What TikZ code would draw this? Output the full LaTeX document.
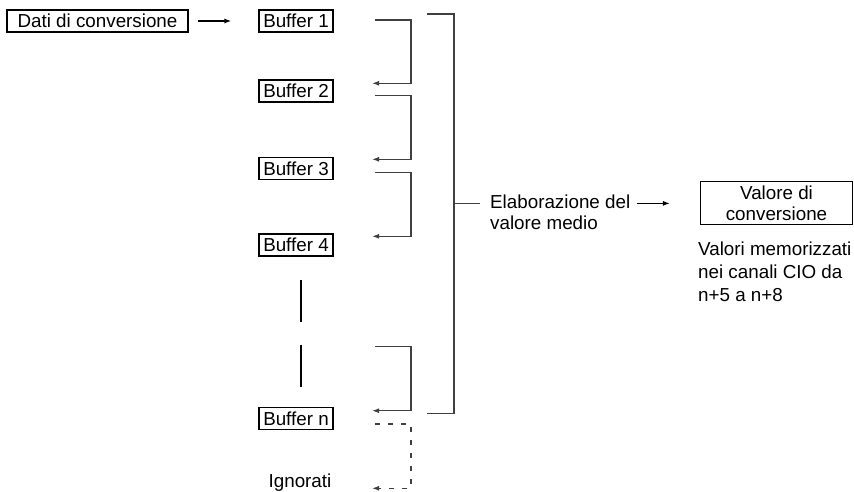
\documentclass[tikz,border=0pt]{standalone}
\usepackage{fontspec}
\setmainfont{Liberation Sans}
\usetikzlibrary{arrows.meta}
\begin{document}
\begin{tikzpicture}[x=1pt,y=-1pt,
  txt/.style={font=\fontsize{18.8}{21}\selectfont, inner sep=0pt},
  box/.style={txt, draw, line width=1.1pt, minimum height=22pt, align=center},
  conn/.style={draw=black!75, line width=1.3pt},
  arr/.style={-{Latex[length=7pt,width=5pt]}},
  dotline/.style={draw=black, line width=2.4pt},
  dsh/.style={conn, dash pattern=on 5pt off 8pt}]
\useasboundingbox (0,0) rectangle (854,492);

% boxes and texts
\node[box, minimum width=181pt] (dati) at (97.5,21) {Dati di conversione};
\node[box, minimum width=74pt] (b1) at (296,21) {Buffer 1};
\node[box, minimum width=74pt] (b2) at (296,91) {Buffer 2};
\node[box, minimum width=74pt] (b3) at (296,168.5) {Buffer 3};
\node[box, minimum width=74pt] (b4) at (296,245) {Buffer 4};
\node[box, minimum width=74pt] (bn) at (296,418.5) {Buffer n};
\node[txt, anchor=base] (ign) at (300,487.5) {Ignorati};
\node[txt, anchor=north west, align=left] (elab) at (490,195) {Elaborazione del\\valore medio};
\node[box, minimum width=152pt, minimum height=43pt] (val) at (776.5,203.4) {Valore di\\conversione};
\node[txt, anchor=north west, align=left, font=\fontsize{18.8}{23}\selectfont] (mem) at (698,241.5) {Valori memorizzati\\nei canali CIO da\\n+5 a n+8};

% coordinates for bracket ends
\coordinate (rail) at (411,0);
\coordinate (o1) at (375,20);
\coordinate (i2) at (372,83.3);
\coordinate (o2) at (375,95.5);
\coordinate (i3) at (372,159.3);
\coordinate (o3) at (375,172.5);
\coordinate (i4) at (372,236.3);
\coordinate (on) at (375,346.7);
\coordinate (in) at (372,410.7);
\coordinate (dn) at (375,424);
\coordinate (ig) at (372,488.3);
\coordinate (bigrail) at (454,0);
\coordinate (bt) at (426.5,14);
\coordinate (bb) at (426.5,413.3);
\coordinate (tk) at (480,203.3);
\coordinate (ea) at (637,203.4);
\coordinate (d1a) at (300.7,280);
\coordinate (d1b) at (300.7,322.3);
\coordinate (d2a) at (300.7,344.5);
\coordinate (d2b) at (300.7,386.7);

% connectors
\draw[conn, draw=black, arr, shorten <=9pt, shorten >=27pt] (dati) -- (b1);
\draw[conn, arr] (o1) -| (rail |- i2) -- (i2);
\draw[conn, arr] (o2) -| (rail |- i3) -- (i3);
\draw[conn, arr] (o3) -| (rail |- i4) -- (i4);
\draw[conn, arr] (on) -| (rail |- in) -- (in);
\draw[dsh, arr] (dn) -| (rail |- ig) -- (ig);
\draw[conn] (bt) -| (bigrail |- bb) -- (bb);
\draw[conn] (bigrail |- tk) -- (tk);
\draw[conn, draw=black, arr, shorten >=30pt] (ea) -- (val.west);
\draw[dotline] (d1a) -- (d1b);
\draw[dotline] (d2a) -- (d2b);
\end{tikzpicture}
\end{document}
